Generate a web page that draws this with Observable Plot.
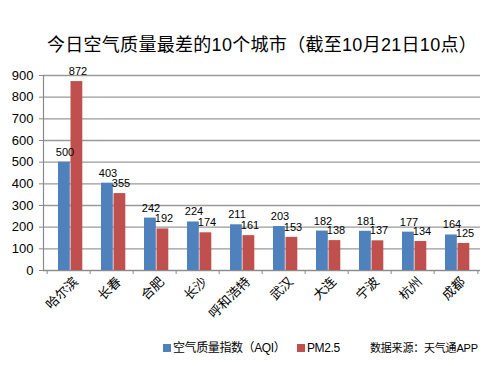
<!DOCTYPE html>
<html>
<head>
<meta charset="utf-8">
<script src="https://cdn.jsdelivr.net/npm/d3@7"></script>
<script src="https://cdn.jsdelivr.net/npm/@observablehq/plot@0.6"></script>
<style>
  html, body { margin: 0; padding: 0; background: #fff; }
  body { width: 500px; height: 366px; overflow: hidden; font-family: "Liberation Sans", "Noto Sans CJK SC", sans-serif; }
  #title { height: 62px; box-sizing: border-box; padding-top: 33px; line-height: 24px; font-size: 18px; letter-spacing: 0.3px; text-align: center; color: #000; padding-left: 24px; }
  #legend { position: relative; height: 31px; font-size: 12px; color: #000; }
  .item { position: absolute; top: 1px; line-height: 24px; white-space: nowrap; letter-spacing: -0.4px; }
  .sw { display: inline-block; width: 8px; height: 8px; margin-right: 2px; vertical-align: 0px; }
  #caption { position: absolute; left: 370px; top: 1px; line-height: 24px; font-size: 11px; letter-spacing: -0.2px; white-space: nowrap; }
</style>
</head>
<body>
<div id="title"></div>
<div id="chart"></div>
<div id="legend"></div>
<script>
const titleText = "今日空气质量最差的10个城市（截至10月21日10点）";
const cities = ["哈尔滨", "长春", "合肥", "长沙", "呼和浩特", "武汉", "大连", "宁波", "杭州", "成都"];
const aqi = [500, 403, 242, 224, 211, 203, 182, 181, 177, 164];
const pm25 = [872, 355, 192, 174, 161, 153, 138, 137, 134, 125];
const seriesNames = ["空气质量指数（AQI）", "PM2.5"];
const seriesColors = ["#4F81BD", "#C0504D"];
const yTicks = [0, 100, 200, 300, 400, 500, 600, 700, 800, 900];
const sourceText = "数据来源：天气通APP";

document.getElementById("title").textContent = titleText;

const W = 500, H = 273, mL = 43, mR = 20, mT = 13, mB = 65;
const band = (W - mL - mR) / cities.length;

const aqiData = cities.map((c, i) => ({city: c, value: aqi[i]}));
const pmData = cities.map((c, i) => ({city: c, value: pm25[i]}));

const chart = Plot.plot({
  width: W,
  height: H,
  marginLeft: mL,
  marginRight: mR,
  marginTop: mT,
  marginBottom: mB,
  style: {fontFamily: "Liberation Sans, Noto Sans CJK SC, sans-serif", background: "#fff", color: "#000"},
  x: {domain: cities, padding: 0, axis: null},
  y: {domain: [0, 900], axis: null},
  marks: [
    Plot.gridY(yTicks, {stroke: "#9a9a9a", strokeOpacity: 1, strokeWidth: 1.4}),
    Plot.barY(aqiData, {x: "city", y: "value", fill: seriesColors[0], insetLeft: 11, insetRight: band - 23.5}),
    Plot.barY(pmData, {x: "city", y: "value", fill: seriesColors[1], insetLeft: 23.5, insetRight: band - 36}),
    Plot.text(aqiData, {x: "city", y: "value", text: d => String(d.value), dx: -4, dy: -10, fontSize: 11, fill: "#000"}),
    Plot.text(pmData, {x: "city", y: "value", text: d => String(d.value), dx: 9, dy: -10, fontSize: 11, fill: "#000"}),
    Plot.ruleY([0], {stroke: "#8a8a8a", strokeWidth: 1.2}),
    Plot.frame({anchor: "left", stroke: "#8a8a8a", strokeWidth: 1.2}),
    Plot.axisY({ticks: yTicks, tickSize: 4, tickPadding: 6, fontSize: 13, stroke: "#8a8a8a", fill: "#000", label: null}),
    Plot.axisX({ticks: cities, tickSize: 4, tickFormat: () => "", dx: -band / 2, stroke: "#8a8a8a", label: null}),
    Plot.axisX({ticks: [cities[cities.length - 1]], tickSize: 4, tickFormat: () => "", dx: band / 2, stroke: "#8a8a8a", label: null}),
    Plot.axisX({ticks: cities, tickSize: 0, tickPadding: 9, tickRotate: -45, fontSize: 13, dx: 7, fill: "#000", label: null})
  ]
});
document.getElementById("chart").appendChild(chart);

const legend = document.getElementById("legend");
const lefts = [163, 297];
seriesNames.forEach((name, i) => {
  const item = document.createElement("span");
  item.className = "item";
  item.style.left = lefts[i] + "px";
  const sw = document.createElement("span");
  sw.className = "sw";
  sw.style.background = seriesColors[i];
  item.appendChild(sw);
  item.appendChild(document.createTextNode(name));
  legend.appendChild(item);
});
const cap = document.createElement("span");
cap.id = "caption";
cap.textContent = sourceText;
legend.appendChild(cap);
</script>
</body>
</html>
